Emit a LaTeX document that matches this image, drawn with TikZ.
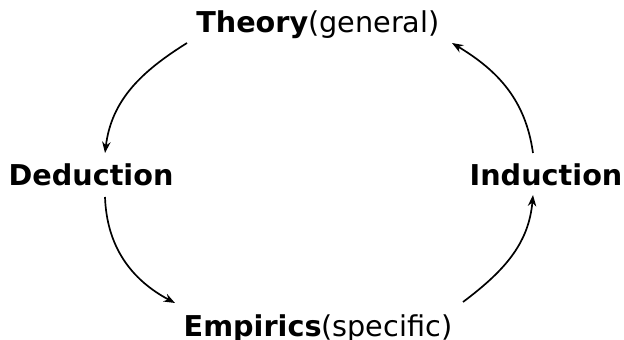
\documentclass[tikz,border=0pt]{standalone}
\usepackage{fontspec}
\setmainfont{DejaVu Sans}
\usetikzlibrary{arrows.meta}

\tikzset{
  stage/.style={anchor=base, inner sep=0pt, font=\fontsize{20.4}{24}\selectfont},
  cycle/.style={-{Stealth[length=8pt,width=6pt]}, line width=1.2pt}
}

\begin{document}
\begin{tikzpicture}[x=0.025cm, y=-0.025cm]
  \useasboundingbox (0,0) rectangle (624,340);
  % Stages
  \node[stage] (theory)    at (318,33)  {\textbf{Theory}(general)};
  \node[stage] (deduction) at (91,186)  {\textbf{Deduction}};
  \node[stage] (induction) at (546,186) {\textbf{Induction}};
  \node[stage] (empirics)  at (318,336) {\textbf{Empirics}(specific)};
  % Cycle
  \draw[cycle] ([shift={(-131,10)}]theory.base) to[out=212,in=83] ([shift={(14,-33)}]deduction.base);
  \draw[cycle] ([shift={(14,11)}]deduction.base) to[out=272,in=152] ([shift={(-143,-33)}]empirics.base);
  \draw[cycle] ([shift={(145,-34)}]empirics.base) to[out=37,in=265] ([shift={(-13,9)}]induction.base);
  \draw[cycle] ([shift={(-13,-33)}]induction.base) to[out=98,in=329] ([shift={(134,10)}]theory.base);
\end{tikzpicture}
\end{document}
